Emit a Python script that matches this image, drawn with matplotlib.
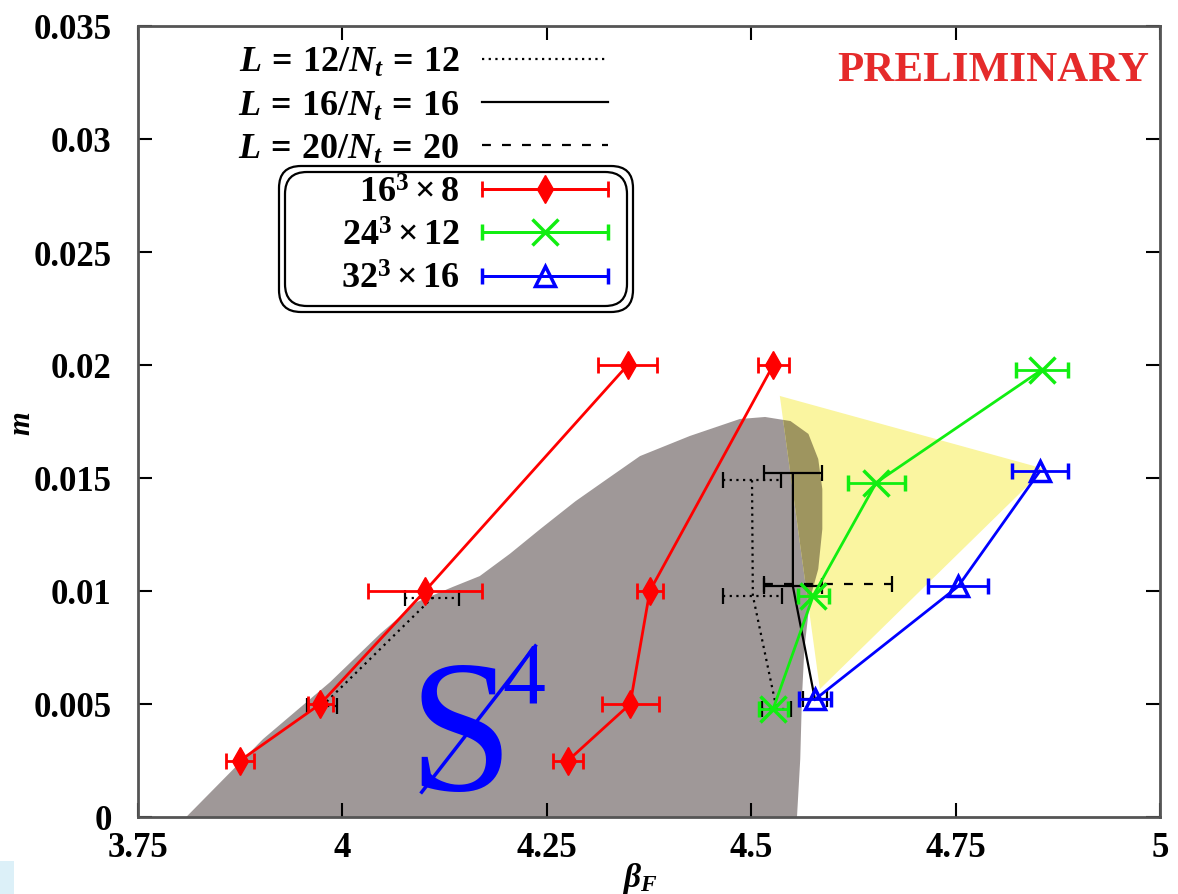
import matplotlib.pyplot as plt
import numpy as np
from matplotlib.patches import Polygon, FancyBboxPatch, Rectangle
from matplotlib.container import ErrorbarContainer
from matplotlib.legend_handler import HandlerErrorbar

plt.rcParams['font.family'] = 'Liberation Serif'
plt.rcParams['mathtext.fontset'] = 'custom'
plt.rcParams['mathtext.rm'] = 'Liberation Serif:bold'
plt.rcParams['mathtext.it'] = 'Liberation Serif:italic:bold'
plt.rcParams['mathtext.bf'] = 'Liberation Serif:bold'

# 16^3 x 8 : two transition lines
red_a_beta = [3.875, 3.973, 4.101, 4.349]
red_a_m = [0.0025, 0.005, 0.01, 0.02]
red_a_err = [0.017, 0.015, 0.07, 0.036]
red_b_beta = [4.276, 4.352, 4.376, 4.527]
red_b_m = [0.0025, 0.005, 0.01, 0.02]
red_b_err = [0.018, 0.035, 0.016, 0.019]

# 24^3 x 12
green_beta = [4.527, 4.576, 4.653, 4.856]
green_m = [0.0048, 0.0098, 0.0148, 0.0198]
green_err = [0.018, 0.019, 0.035, 0.032]

# 32^3 x 16
blue_beta = [4.578, 4.753, 4.853]
blue_m = [0.0052, 0.0102, 0.0153]
blue_err = [0.02, 0.037, 0.034]

# fixed L / N_t lines
l12_lo_beta = [3.975, 4.11]
l12_lo_m = [0.0049, 0.0097]
l12_lo_err = [0.018, 0.033]
l12_hi_beta = [4.501, 4.502, 4.531]
l12_hi_m = [0.0149, 0.0098, 0.0048]
l12_hi_err = [0.036, 0.036, 0.018]
l16_beta = [4.551, 4.551, 4.578]
l16_m = [0.0152, 0.0102, 0.0052]
l16_err = [0.035, 0.035, 0.015]
l20_beta = [4.594]
l20_m = [0.0103]
l20_err = [0.078]

# boundary of the S4-broken region
region_beta = [3.809, 3.903, 3.985, 4.046, 4.091, 4.135, 4.168, 4.205, 4.242,
               4.285, 4.324, 4.364, 4.425, 4.486, 4.517, 4.548, 4.570, 4.582,
               4.587, 4.587, 4.582, 4.572, 4.565, 4.562, 4.560, 4.556]
region_m = [0.0, 0.00345, 0.00597, 0.0081, 0.00951, 0.01018, 0.01066, 0.01165,
            0.01274, 0.01397, 0.01496, 0.01597, 0.01686, 0.01761, 0.0177,
            0.01752, 0.01695, 0.01584, 0.01451, 0.01274, 0.01097, 0.00965,
            0.00743, 0.00522, 0.00257, 0.0]

# highlighted wedge
wedge_beta = [4.535, 4.859, 4.584]
wedge_m = [0.01863, 0.0154, 0.00566]

# S4 slash
slash_beta = [4.097, 4.236]
slash_m = [0.0011, 0.00757]

xticks = [3.75, 4.0, 4.25, 4.5, 4.75, 5.0]
xtick_labels = ['3.75', '4', '4.25', '4.5', '4.75', '5']
yticks = [0, 0.005, 0.01, 0.015, 0.02, 0.025, 0.03, 0.035]
ytick_labels = ['0', '0.005', '0.01', '0.015', '0.02', '0.025', '0.03', '0.035']

fig = plt.figure(figsize=(11.78, 8.95), dpi=100)
ax = fig.add_axes([138 / 1178, 77 / 895, 1022 / 1178, 791 / 895])

region = Polygon(np.column_stack([region_beta, region_m]), closed=True,
                 fc='#9f9898', ec='none', zorder=1)
ax.add_patch(region)
wedge_xy = np.column_stack([wedge_beta, wedge_m])
ax.add_patch(Polygon(wedge_xy, closed=True, fc='#faf5a0', ec='none', zorder=1.2))
overlap = Polygon(wedge_xy, closed=True, fc='#9e955f', ec='none', zorder=1.3)
ax.add_patch(overlap)
overlap.set_clip_path(region)

ax.text(4.144, 0.00124, 'S', color='#0000ff', fontsize=135, ha='center',
        va='baseline', fontweight='normal', zorder=2)
ax.text(4.196, 0.0051, '4', color='#0000ff', fontsize=62, ha='left',
        va='baseline', fontweight='normal', zorder=2)
ax.plot(slash_beta, slash_m, color='#0000ff', lw=2.5, zorder=2)


def fixed_line(beta, m, err, ls):
    eb = ax.errorbar(beta, m, xerr=err, color='black', ls=ls, lw=1.6,
                     capsize=6, capthick=1.6, elinewidth=1.6, zorder=3)
    for col in eb[2]:
        col.set_linestyle(ls)
    return eb


l12 = fixed_line(l12_lo_beta, l12_lo_m, l12_lo_err, (0, (1, 2)))
fixed_line(l12_hi_beta, l12_hi_m, l12_hi_err, (0, (1, 2)))
l16 = fixed_line(l16_beta, l16_m, l16_err, '-')
l20 = fixed_line(l20_beta, l20_m, l20_err, (0, (4, 5)))


def series(beta, m, err, color, marker, **kw):
    return ax.errorbar(beta, m, xerr=err, color=color, marker=marker, lw=2,
                       capsize=6, capthick=2, elinewidth=2, zorder=4, **kw)


red = series(red_a_beta, red_a_m, red_a_err, '#ff0000', 'd', ms=14)
series(red_b_beta, red_b_m, red_b_err, '#ff0000', 'd', ms=14)
green = series(green_beta, green_m, green_err, '#11ee11', 'x', ms=19, mew=2.5)
blue = series(blue_beta, blue_m, blue_err, '#0000ff', '^', ms=14,
              mfc='none', mew=2.5)

ax.set_xlim(3.75, 5)
ax.set_ylim(0, 0.035)
ax.set_xticks(xticks)
ax.set_xticklabels(xtick_labels, fontweight='bold')
ax.set_yticks(yticks)
ax.set_yticklabels(ytick_labels, fontweight='bold')
ax.tick_params(direction='in', top=True, right=True, length=10, width=1.5,
               labelsize=25)
ax.tick_params(axis='x', pad=10)
ax.tick_params(axis='y', pad=19)
for sp in ax.spines.values():
    sp.set_color('#555555')
    sp.set_linewidth(2)

ax.set_xlabel(r'$\beta_F$', fontsize=24)
ax.set_ylabel(r'$m$', fontsize=22)
ax.xaxis.set_label_coords(0.491, -0.054)
ax.yaxis.set_label_coords(-0.099, 0.498)

handles = [l12[0], l16[0], l20[0], red, green, blue]
labels = [r'$L\,=\,12/N_t\,=\,12$', r'$L\,=\,16/N_t\,=\,16$',
          r'$L\,=\,20/N_t\,=\,20$', r'$16^3\times8$', r'$24^3\times12$',
          r'$32^3\times16$']
ax.legend(handles, labels, loc='upper right', bbox_to_anchor=(6.08, 8.48),
          bbox_transform=fig.dpi_scale_trans, markerfirst=False, frameon=False,
          fontsize=26, handlelength=3.5, handletextpad=0.6, labelspacing=0.28,
          borderpad=0, borderaxespad=0,
          handler_map={ErrorbarContainer: HandlerErrorbar(xerr_size=1.75)})

# double rounded frame around the lattice-size entries
for inset in (0.0, 0.06):
    fig.add_artist(FancyBboxPatch((2.79 + inset, 5.82 + inset),
                                  3.54 - 2 * inset, 1.46 - 2 * inset,
                                  boxstyle='round,pad=0,rounding_size=0.22',
                                  transform=fig.dpi_scale_trans, fill=False,
                                  ec='black', lw=1.6))

fig.text(993 / 1178, 1 - 71 / 895, 'PRELIMINARY', color='#e52b2b',
         fontsize=31, fontweight='bold', ha='center', va='center')
fig.add_artist(Rectangle((0, 0), 0.012, 0.037, transform=fig.transFigure,
                         color='#dcf0f8', lw=0))

fig.savefig('out.png', dpi=100)
